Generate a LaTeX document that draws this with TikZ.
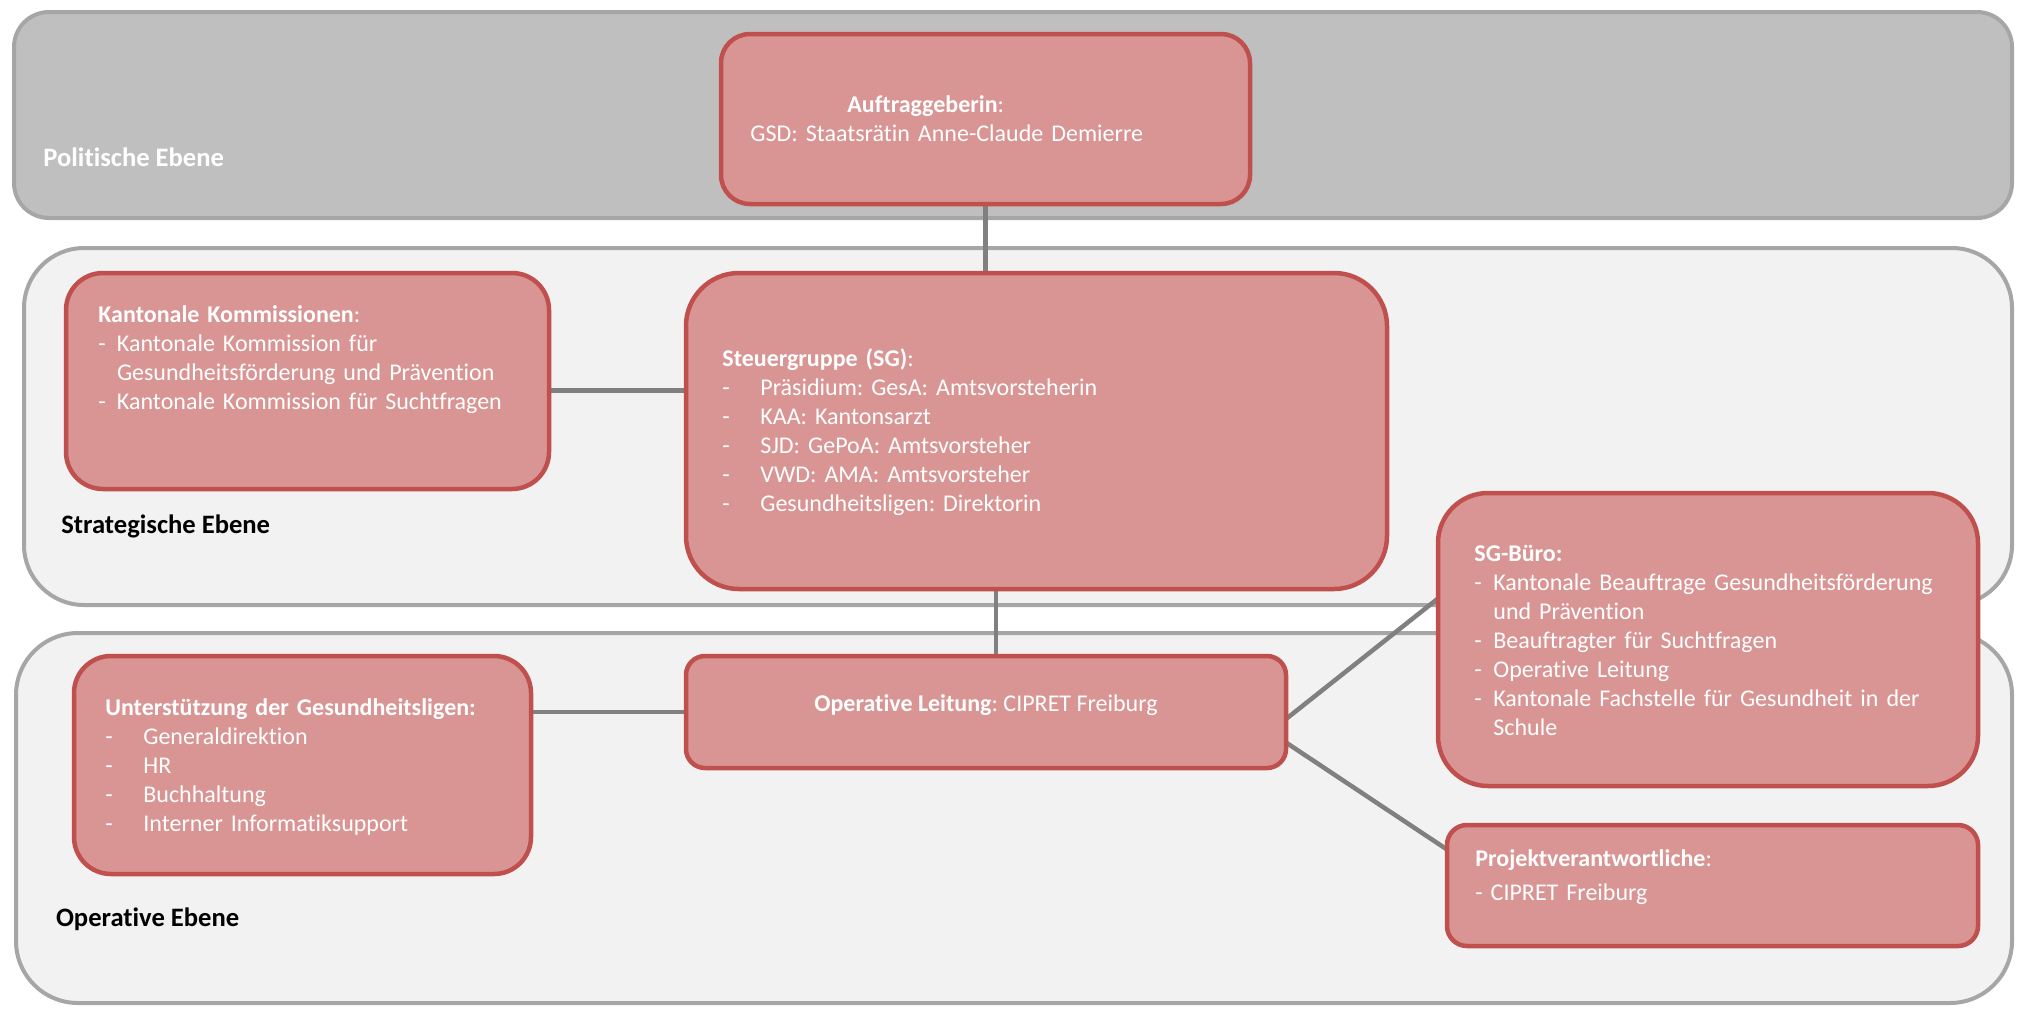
\documentclass[tikz,border=0pt]{standalone}
\usepackage{fontspec}
\setmainfont{Carlito}[Ligatures=NoCommon]
\frenchspacing
\usetikzlibrary{positioning, backgrounds}
\definecolor{boxfill}{HTML}{D99594}
\definecolor{boxline}{HTML}{C0504D}
\definecolor{banddark}{HTML}{BFBFBF}
\definecolor{bandlight}{HTML}{F2F2F2}
\definecolor{bandline}{HTML}{A6A6A6}
\definecolor{linkgray}{HTML}{808080}
\newcommand{\listdash}[1]{\makebox[#1][l]{-}}
\tikzset{
	band/.style={draw=bandline, line width=2pt, inner sep=0pt, outer sep=0pt, rounded corners=#1},
	box/.style={draw=boxline, fill=boxfill, line width=2.25pt, inner sep=0pt, outer sep=0pt, rounded corners=#1},
	wtext/.style={text=white, inner sep=0pt, font=\fontsize{12}{14.5}\selectfont\frenchspacing},
	txt/.style={wtext, align=left, text width=260pt},
	layerlbl/.style={inner sep=0pt, font=\fontsize{13.3}{16}\selectfont\bfseries},
	link/.style={draw=linkgray, line width=2.25pt},
}

\begin{document}
\begin{tikzpicture}[x=1pt, y=1pt]
	\useasboundingbox (0,0) rectangle (1010,-504);

	\node[box=14.5pt, minimum width=264.5pt, minimum height=85pt] (AUF) at (492.75,-59.5) {};
	\node[box=18.5pt, minimum width=241.5pt, minimum height=108pt] (KOM) at (153.75,-190.5) {};
	\node[box=26.5pt, minimum width=350.5pt, minimum height=158pt] (SG) at (518.25,-215.5) {};
	\node[box=9.5pt, minimum width=300pt, minimum height=56pt] (OPS) at (493,-356) {};
	\node[box=18.5pt, minimum width=228.5pt, minimum height=109pt] (UNT) at (151.25,-382.5) {};
	\node[box=25pt, minimum width=270pt, minimum height=146.5pt] (BUERO) at (854,-319.75) {};
	\node[box=10pt, minimum width=265.5pt, minimum height=60.5pt] (PROJ) at (856.25,-442.75) {};

	\begin{pgfonlayer}{background}
		\node[band=17.5pt, fill=banddark, minimum width=999pt, minimum height=103pt] (POL) at (506.5,-57.5) {};
		\node[band=30pt, fill=bandlight, minimum width=994pt, minimum height=178.5pt] (STR) at (509,-213.25) {};
		\node[band=31pt, fill=bandlight, minimum width=998pt, minimum height=185pt] (OPR) at (507,-409) {};

		\draw[link] (AUF.south) -- (AUF.south |- SG.north);
		\draw[link] ([yshift=-4.75pt]KOM.east) -- ([yshift=-4.75pt]KOM.east -| SG.west);
		\draw[link] ([xshift=5pt]OPS.north) -- ([xshift=5pt]OPS.north |- SG.south);
		\draw[link] (OPS.west) -- (OPS.west -| UNT.east);
		\draw[link] ([yshift=-3.5pt]OPS.east) -- ([yshift=20.5pt]BUERO.west);
		\draw[link] ([yshift=-15.25pt]OPS.east) -- ([yshift=18pt]PROJ.west);
	\end{pgfonlayer}

	\node[layerlbl, text=white, below right=77.35pt and 14.5pt of POL.north west, anchor=base west] (POLlbl) {Politische Ebene};
	\node[layerlbl, below right=142.5pt and 18.5pt of STR.north west, anchor=base west] (STRlbl) {Strategische Ebene};
	\node[layerlbl, below right=146.85pt and 19.8pt of OPR.north west, anchor=base west] (OPRlbl) {Operative Ebene};

	\node[txt, below right=39.35pt and 14.5pt of AUF.north west, anchor=base west] (AUFtxt) {\hspace*{48.5pt}\textbf{Auftraggeberin}:\\GSD: Staatsrätin Anne-Claude Demierre};
	\node[txt, below right=24.5pt and 16pt of KOM.north west, anchor=base west] (KOMtxt) {\textbf{Kantonale Kommissionen}:\\
		\listdash{9.3pt}Kantonale Kommission für\\
		\hspace*{9.3pt}Gesundheitsförderung und Prävention\\
		\listdash{9.3pt}Kantonale Kommission für Suchtfragen};
	\node[txt, below right=46.5pt and 18pt of SG.north west, anchor=base west] (SGtxt) {\textbf{Steuergruppe (SG)}:\\
		\listdash{19pt}Präsidium: GesA: Amtsvorsteherin\\
		\listdash{19pt}KAA: Kantonsarzt\\
		\listdash{19pt}SJD: GePoA: Amtsvorsteher\\
		\listdash{19pt}VWD: AMA: Amtsvorsteher\\
		\listdash{19pt}Gesundheitsligen: Direktorin};
	\node[txt, below right=34.35pt and 18pt of BUERO.north west, anchor=base west] (BUEROtxt) {\textbf{SG-Büro:}\\
		\listdash{9.5pt}Kantonale Beauftrage Gesundheitsförderung\\
		\hspace*{9.5pt}und Prävention\\
		\listdash{9.5pt}Beauftragter für Suchtfragen\\
		\listdash{9.5pt}Operative Leitung\\
		\listdash{9.5pt}Kantonale Fachstelle für Gesundheit in der\\
		\hspace*{9.5pt}Schule};
	\node[wtext, below=27.85pt of OPS.north, anchor=base] (OPStxt) {\textbf{Operative Leitung}: CIPRET Freiburg};
	\node[txt, below right=29.5pt and 15.5pt of UNT.north west, anchor=base west] (UNTtxt) {\textbf{Unterstützung der Gesundheitsligen:}\\
		\listdash{19pt}Generaldirektion\\
		\listdash{19pt}HR\\
		\listdash{19pt}Buchhaltung\\
		\listdash{19pt}Interner Informatiksupport};
	\node[txt, below right=20.5pt and 14pt of PROJ.north west, anchor=base west] (PROJtxt) {\textbf{Projektverantwortliche}:\\[2.5pt]
		- CIPRET Freiburg};

\end{tikzpicture}
\end{document}
